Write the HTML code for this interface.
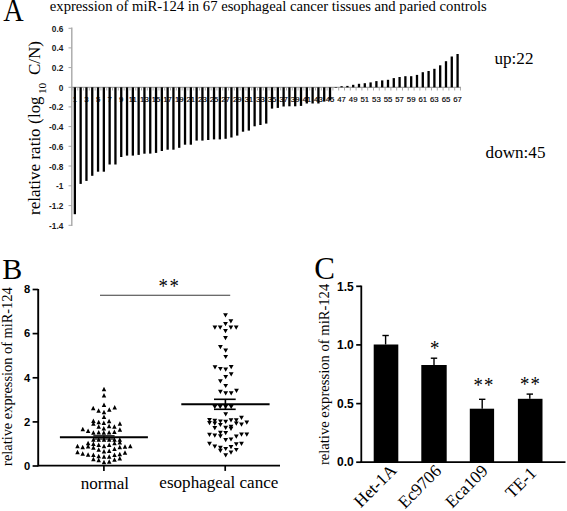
<!DOCTYPE html>
<html><head><meta charset="utf-8"><style>
html,body{margin:0;padding:0;background:#fff;}
svg{display:block;}
text{font-family:"Liberation Serif",serif;fill:#000;}
.tk{font-family:"Liberation Sans",sans-serif;font-weight:bold;font-size:8.3px;fill:#1a1a1a;}
.bl{font-family:"Liberation Sans",sans-serif;font-size:7.8px;fill:#000;stroke:#000;stroke-width:0.15px;}
.tkb{font-family:"Liberation Sans",sans-serif;font-weight:bold;font-size:11.2px;}
.tkc{font-family:"Liberation Sans",sans-serif;font-weight:bold;font-size:12px;}
.big{font-size:30px;}
.ttl{font-size:14.7px;}
.ud{font-size:17.1px;}
.yl{font-size:17px;}
.yls{font-size:11.3px;}
.yl2{font-size:14.8px;}
.xl{font-size:17.1px;}
.xc{font-size:17.3px;}
.ast{font-size:20px;}
</style></head><body>
<svg width="567" height="511" viewBox="0 0 567 511">
<rect width="567" height="511" fill="#fff"/>
<line x1="71.8" y1="27.5" x2="71.8" y2="226" stroke="#a8a8a8" stroke-width="1.4"/>
<line x1="68.5" y1="28.3" x2="71.8" y2="28.3" stroke="#a8a8a8" stroke-width="1"/>
<text x="63.4" y="31.8" text-anchor="end" class="tk">0.6</text>
<line x1="68.5" y1="47.9" x2="71.8" y2="47.9" stroke="#a8a8a8" stroke-width="1"/>
<text x="63.4" y="51.4" text-anchor="end" class="tk">0.4</text>
<line x1="68.5" y1="67.6" x2="71.8" y2="67.6" stroke="#a8a8a8" stroke-width="1"/>
<text x="63.4" y="71.1" text-anchor="end" class="tk">0.2</text>
<line x1="68.5" y1="87.3" x2="71.8" y2="87.3" stroke="#a8a8a8" stroke-width="1"/>
<text x="63.4" y="90.8" text-anchor="end" class="tk">0</text>
<line x1="68.5" y1="106.9" x2="71.8" y2="106.9" stroke="#a8a8a8" stroke-width="1"/>
<text x="63.4" y="110.4" text-anchor="end" class="tk">-0.2</text>
<line x1="68.5" y1="126.6" x2="71.8" y2="126.6" stroke="#a8a8a8" stroke-width="1"/>
<text x="63.4" y="130.1" text-anchor="end" class="tk">-0.4</text>
<line x1="68.5" y1="146.3" x2="71.8" y2="146.3" stroke="#a8a8a8" stroke-width="1"/>
<text x="63.4" y="149.8" text-anchor="end" class="tk">-0.6</text>
<line x1="68.5" y1="166.0" x2="71.8" y2="166.0" stroke="#a8a8a8" stroke-width="1"/>
<text x="63.4" y="169.5" text-anchor="end" class="tk">-0.8</text>
<line x1="68.5" y1="185.8" x2="71.8" y2="185.8" stroke="#a8a8a8" stroke-width="1"/>
<text x="63.4" y="189.3" text-anchor="end" class="tk">-1</text>
<line x1="68.5" y1="205.6" x2="71.8" y2="205.6" stroke="#a8a8a8" stroke-width="1"/>
<text x="63.4" y="209.1" text-anchor="end" class="tk">-1.2</text>
<line x1="68.5" y1="225.3" x2="71.8" y2="225.3" stroke="#a8a8a8" stroke-width="1"/>
<text x="63.4" y="228.8" text-anchor="end" class="tk">-1.4</text>
<line x1="71.8" y1="87.3" x2="461" y2="87.3" stroke="#a0a0a0" stroke-width="1.2"/>
<line x1="71.95" y1="87.3" x2="71.95" y2="90.5" stroke="#a0a0a0" stroke-width="0.9"/>
<line x1="77.75" y1="87.3" x2="77.75" y2="90.5" stroke="#a0a0a0" stroke-width="0.9"/>
<line x1="83.55" y1="87.3" x2="83.55" y2="90.5" stroke="#a0a0a0" stroke-width="0.9"/>
<line x1="89.35" y1="87.3" x2="89.35" y2="90.5" stroke="#a0a0a0" stroke-width="0.9"/>
<line x1="95.15" y1="87.3" x2="95.15" y2="90.5" stroke="#a0a0a0" stroke-width="0.9"/>
<line x1="100.95" y1="87.3" x2="100.95" y2="90.5" stroke="#a0a0a0" stroke-width="0.9"/>
<line x1="106.74" y1="87.3" x2="106.74" y2="90.5" stroke="#a0a0a0" stroke-width="0.9"/>
<line x1="112.54" y1="87.3" x2="112.54" y2="90.5" stroke="#a0a0a0" stroke-width="0.9"/>
<line x1="118.34" y1="87.3" x2="118.34" y2="90.5" stroke="#a0a0a0" stroke-width="0.9"/>
<line x1="124.14" y1="87.3" x2="124.14" y2="90.5" stroke="#a0a0a0" stroke-width="0.9"/>
<line x1="129.94" y1="87.3" x2="129.94" y2="90.5" stroke="#a0a0a0" stroke-width="0.9"/>
<line x1="135.74" y1="87.3" x2="135.74" y2="90.5" stroke="#a0a0a0" stroke-width="0.9"/>
<line x1="141.54" y1="87.3" x2="141.54" y2="90.5" stroke="#a0a0a0" stroke-width="0.9"/>
<line x1="147.34" y1="87.3" x2="147.34" y2="90.5" stroke="#a0a0a0" stroke-width="0.9"/>
<line x1="153.14" y1="87.3" x2="153.14" y2="90.5" stroke="#a0a0a0" stroke-width="0.9"/>
<line x1="158.94" y1="87.3" x2="158.94" y2="90.5" stroke="#a0a0a0" stroke-width="0.9"/>
<line x1="164.73" y1="87.3" x2="164.73" y2="90.5" stroke="#a0a0a0" stroke-width="0.9"/>
<line x1="170.53" y1="87.3" x2="170.53" y2="90.5" stroke="#a0a0a0" stroke-width="0.9"/>
<line x1="176.33" y1="87.3" x2="176.33" y2="90.5" stroke="#a0a0a0" stroke-width="0.9"/>
<line x1="182.13" y1="87.3" x2="182.13" y2="90.5" stroke="#a0a0a0" stroke-width="0.9"/>
<line x1="187.93" y1="87.3" x2="187.93" y2="90.5" stroke="#a0a0a0" stroke-width="0.9"/>
<line x1="193.73" y1="87.3" x2="193.73" y2="90.5" stroke="#a0a0a0" stroke-width="0.9"/>
<line x1="199.53" y1="87.3" x2="199.53" y2="90.5" stroke="#a0a0a0" stroke-width="0.9"/>
<line x1="205.33" y1="87.3" x2="205.33" y2="90.5" stroke="#a0a0a0" stroke-width="0.9"/>
<line x1="211.13" y1="87.3" x2="211.13" y2="90.5" stroke="#a0a0a0" stroke-width="0.9"/>
<line x1="216.93" y1="87.3" x2="216.93" y2="90.5" stroke="#a0a0a0" stroke-width="0.9"/>
<line x1="222.72" y1="87.3" x2="222.72" y2="90.5" stroke="#a0a0a0" stroke-width="0.9"/>
<line x1="228.52" y1="87.3" x2="228.52" y2="90.5" stroke="#a0a0a0" stroke-width="0.9"/>
<line x1="234.32" y1="87.3" x2="234.32" y2="90.5" stroke="#a0a0a0" stroke-width="0.9"/>
<line x1="240.12" y1="87.3" x2="240.12" y2="90.5" stroke="#a0a0a0" stroke-width="0.9"/>
<line x1="245.92" y1="87.3" x2="245.92" y2="90.5" stroke="#a0a0a0" stroke-width="0.9"/>
<line x1="251.72" y1="87.3" x2="251.72" y2="90.5" stroke="#a0a0a0" stroke-width="0.9"/>
<line x1="257.52" y1="87.3" x2="257.52" y2="90.5" stroke="#a0a0a0" stroke-width="0.9"/>
<line x1="263.32" y1="87.3" x2="263.32" y2="90.5" stroke="#a0a0a0" stroke-width="0.9"/>
<line x1="269.12" y1="87.3" x2="269.12" y2="90.5" stroke="#a0a0a0" stroke-width="0.9"/>
<line x1="274.92" y1="87.3" x2="274.92" y2="90.5" stroke="#a0a0a0" stroke-width="0.9"/>
<line x1="280.71" y1="87.3" x2="280.71" y2="90.5" stroke="#a0a0a0" stroke-width="0.9"/>
<line x1="286.51" y1="87.3" x2="286.51" y2="90.5" stroke="#a0a0a0" stroke-width="0.9"/>
<line x1="292.31" y1="87.3" x2="292.31" y2="90.5" stroke="#a0a0a0" stroke-width="0.9"/>
<line x1="298.11" y1="87.3" x2="298.11" y2="90.5" stroke="#a0a0a0" stroke-width="0.9"/>
<line x1="303.91" y1="87.3" x2="303.91" y2="90.5" stroke="#a0a0a0" stroke-width="0.9"/>
<line x1="309.71" y1="87.3" x2="309.71" y2="90.5" stroke="#a0a0a0" stroke-width="0.9"/>
<line x1="315.51" y1="87.3" x2="315.51" y2="90.5" stroke="#a0a0a0" stroke-width="0.9"/>
<line x1="321.31" y1="87.3" x2="321.31" y2="90.5" stroke="#a0a0a0" stroke-width="0.9"/>
<line x1="327.11" y1="87.3" x2="327.11" y2="90.5" stroke="#a0a0a0" stroke-width="0.9"/>
<line x1="332.91" y1="87.3" x2="332.91" y2="90.5" stroke="#a0a0a0" stroke-width="0.9"/>
<line x1="338.70" y1="87.3" x2="338.70" y2="90.5" stroke="#a0a0a0" stroke-width="0.9"/>
<line x1="344.50" y1="87.3" x2="344.50" y2="90.5" stroke="#a0a0a0" stroke-width="0.9"/>
<line x1="350.30" y1="87.3" x2="350.30" y2="90.5" stroke="#a0a0a0" stroke-width="0.9"/>
<line x1="356.10" y1="87.3" x2="356.10" y2="90.5" stroke="#a0a0a0" stroke-width="0.9"/>
<line x1="361.90" y1="87.3" x2="361.90" y2="90.5" stroke="#a0a0a0" stroke-width="0.9"/>
<line x1="367.70" y1="87.3" x2="367.70" y2="90.5" stroke="#a0a0a0" stroke-width="0.9"/>
<line x1="373.50" y1="87.3" x2="373.50" y2="90.5" stroke="#a0a0a0" stroke-width="0.9"/>
<line x1="379.30" y1="87.3" x2="379.30" y2="90.5" stroke="#a0a0a0" stroke-width="0.9"/>
<line x1="385.10" y1="87.3" x2="385.10" y2="90.5" stroke="#a0a0a0" stroke-width="0.9"/>
<line x1="390.90" y1="87.3" x2="390.90" y2="90.5" stroke="#a0a0a0" stroke-width="0.9"/>
<line x1="396.69" y1="87.3" x2="396.69" y2="90.5" stroke="#a0a0a0" stroke-width="0.9"/>
<line x1="402.49" y1="87.3" x2="402.49" y2="90.5" stroke="#a0a0a0" stroke-width="0.9"/>
<line x1="408.29" y1="87.3" x2="408.29" y2="90.5" stroke="#a0a0a0" stroke-width="0.9"/>
<line x1="414.09" y1="87.3" x2="414.09" y2="90.5" stroke="#a0a0a0" stroke-width="0.9"/>
<line x1="419.89" y1="87.3" x2="419.89" y2="90.5" stroke="#a0a0a0" stroke-width="0.9"/>
<line x1="425.69" y1="87.3" x2="425.69" y2="90.5" stroke="#a0a0a0" stroke-width="0.9"/>
<line x1="431.49" y1="87.3" x2="431.49" y2="90.5" stroke="#a0a0a0" stroke-width="0.9"/>
<line x1="437.29" y1="87.3" x2="437.29" y2="90.5" stroke="#a0a0a0" stroke-width="0.9"/>
<line x1="443.09" y1="87.3" x2="443.09" y2="90.5" stroke="#a0a0a0" stroke-width="0.9"/>
<line x1="448.89" y1="87.3" x2="448.89" y2="90.5" stroke="#a0a0a0" stroke-width="0.9"/>
<line x1="454.68" y1="87.3" x2="454.68" y2="90.5" stroke="#a0a0a0" stroke-width="0.9"/>
<line x1="460.48" y1="87.3" x2="460.48" y2="90.5" stroke="#a0a0a0" stroke-width="0.9"/>
<rect x="73.70" y="87.3" width="2.3" height="126.90" fill="#000"/>
<rect x="79.50" y="87.3" width="2.3" height="96.60" fill="#000"/>
<rect x="85.30" y="87.3" width="2.3" height="93.60" fill="#000"/>
<rect x="91.10" y="87.3" width="2.3" height="88.50" fill="#000"/>
<rect x="96.90" y="87.3" width="2.3" height="84.40" fill="#000"/>
<rect x="102.69" y="87.3" width="2.3" height="84.40" fill="#000"/>
<rect x="108.49" y="87.3" width="2.3" height="77.20" fill="#000"/>
<rect x="114.29" y="87.3" width="2.3" height="77.20" fill="#000"/>
<rect x="120.09" y="87.3" width="2.3" height="69.70" fill="#000"/>
<rect x="125.89" y="87.3" width="2.3" height="68.30" fill="#000"/>
<rect x="131.69" y="87.3" width="2.3" height="68.30" fill="#000"/>
<rect x="137.49" y="87.3" width="2.3" height="67.60" fill="#000"/>
<rect x="143.29" y="87.3" width="2.3" height="66.40" fill="#000"/>
<rect x="149.09" y="87.3" width="2.3" height="66.30" fill="#000"/>
<rect x="154.89" y="87.3" width="2.3" height="65.60" fill="#000"/>
<rect x="160.68" y="87.3" width="2.3" height="63.70" fill="#000"/>
<rect x="166.48" y="87.3" width="2.3" height="62.40" fill="#000"/>
<rect x="172.28" y="87.3" width="2.3" height="62.40" fill="#000"/>
<rect x="178.08" y="87.3" width="2.3" height="60.50" fill="#000"/>
<rect x="183.88" y="87.3" width="2.3" height="57.40" fill="#000"/>
<rect x="189.68" y="87.3" width="2.3" height="57.40" fill="#000"/>
<rect x="195.48" y="87.3" width="2.3" height="53.30" fill="#000"/>
<rect x="201.28" y="87.3" width="2.3" height="53.30" fill="#000"/>
<rect x="207.08" y="87.3" width="2.3" height="52.70" fill="#000"/>
<rect x="212.88" y="87.3" width="2.3" height="52.10" fill="#000"/>
<rect x="218.68" y="87.3" width="2.3" height="52.10" fill="#000"/>
<rect x="224.47" y="87.3" width="2.3" height="51.50" fill="#000"/>
<rect x="230.27" y="87.3" width="2.3" height="50.20" fill="#000"/>
<rect x="236.07" y="87.3" width="2.3" height="48.30" fill="#000"/>
<rect x="241.87" y="87.3" width="2.3" height="44.40" fill="#000"/>
<rect x="247.67" y="87.3" width="2.3" height="43.30" fill="#000"/>
<rect x="253.47" y="87.3" width="2.3" height="39.00" fill="#000"/>
<rect x="259.27" y="87.3" width="2.3" height="37.70" fill="#000"/>
<rect x="265.07" y="87.3" width="2.3" height="36.30" fill="#000"/>
<rect x="270.87" y="87.3" width="2.3" height="21.30" fill="#000"/>
<rect x="276.67" y="87.3" width="2.3" height="20.60" fill="#000"/>
<rect x="282.46" y="87.3" width="2.3" height="19.20" fill="#000"/>
<rect x="288.26" y="87.3" width="2.3" height="19.00" fill="#000"/>
<rect x="294.06" y="87.3" width="2.3" height="19.00" fill="#000"/>
<rect x="299.86" y="87.3" width="2.3" height="18.60" fill="#000"/>
<rect x="305.66" y="87.3" width="2.3" height="16.20" fill="#000"/>
<rect x="311.46" y="87.3" width="2.3" height="16.20" fill="#000"/>
<rect x="317.26" y="87.3" width="2.3" height="16.20" fill="#000"/>
<rect x="323.06" y="87.3" width="2.3" height="14.30" fill="#000"/>
<rect x="328.86" y="87.3" width="2.3" height="13.10" fill="#000"/>
<rect x="334.66" y="87.3" width="2.3" height="0.50" fill="#000"/>
<rect x="340.45" y="86.2" width="2.3" height="1.10" fill="#000"/>
<rect x="346.25" y="85.9" width="2.3" height="1.40" fill="#000"/>
<rect x="352.05" y="84.8" width="2.3" height="2.50" fill="#000"/>
<rect x="357.85" y="83.8" width="2.3" height="3.50" fill="#000"/>
<rect x="363.65" y="83.2" width="2.3" height="4.10" fill="#000"/>
<rect x="369.45" y="82.4" width="2.3" height="4.90" fill="#000"/>
<rect x="375.25" y="81.1" width="2.3" height="6.20" fill="#000"/>
<rect x="381.05" y="80.4" width="2.3" height="6.90" fill="#000"/>
<rect x="386.85" y="79.8" width="2.3" height="7.50" fill="#000"/>
<rect x="392.64" y="78.1" width="2.3" height="9.20" fill="#000"/>
<rect x="398.44" y="77.0" width="2.3" height="10.30" fill="#000"/>
<rect x="404.24" y="76.2" width="2.3" height="11.10" fill="#000"/>
<rect x="410.04" y="76.2" width="2.3" height="11.10" fill="#000"/>
<rect x="415.84" y="74.9" width="2.3" height="12.40" fill="#000"/>
<rect x="421.64" y="72.2" width="2.3" height="15.10" fill="#000"/>
<rect x="427.44" y="71.0" width="2.3" height="16.30" fill="#000"/>
<rect x="433.24" y="68.8" width="2.3" height="18.50" fill="#000"/>
<rect x="439.04" y="65.3" width="2.3" height="22.00" fill="#000"/>
<rect x="444.84" y="61.2" width="2.3" height="26.10" fill="#000"/>
<rect x="450.63" y="56.5" width="2.3" height="30.80" fill="#000"/>
<rect x="456.43" y="54.0" width="2.3" height="33.30" fill="#000"/>
<text x="74.85" y="102.1" text-anchor="middle" class="bl">1</text>
<text x="86.45" y="102.1" text-anchor="middle" class="bl">3</text>
<text x="98.05" y="102.1" text-anchor="middle" class="bl">5</text>
<text x="109.64" y="102.1" text-anchor="middle" class="bl">7</text>
<text x="121.24" y="102.1" text-anchor="middle" class="bl">9</text>
<text x="132.84" y="102.1" text-anchor="middle" class="bl">11</text>
<text x="144.44" y="102.1" text-anchor="middle" class="bl">13</text>
<text x="156.04" y="102.1" text-anchor="middle" class="bl">15</text>
<text x="167.63" y="102.1" text-anchor="middle" class="bl">17</text>
<text x="179.23" y="102.1" text-anchor="middle" class="bl">19</text>
<text x="190.83" y="102.1" text-anchor="middle" class="bl">21</text>
<text x="202.43" y="102.1" text-anchor="middle" class="bl">23</text>
<text x="214.03" y="102.1" text-anchor="middle" class="bl">25</text>
<text x="225.62" y="102.1" text-anchor="middle" class="bl">27</text>
<text x="237.22" y="102.1" text-anchor="middle" class="bl">29</text>
<text x="248.82" y="102.1" text-anchor="middle" class="bl">31</text>
<text x="260.42" y="102.1" text-anchor="middle" class="bl">33</text>
<text x="272.02" y="102.1" text-anchor="middle" class="bl">35</text>
<text x="283.61" y="102.1" text-anchor="middle" class="bl">37</text>
<text x="295.21" y="102.1" text-anchor="middle" class="bl">39</text>
<text x="306.81" y="102.1" text-anchor="middle" class="bl">41</text>
<text x="318.41" y="102.1" text-anchor="middle" class="bl">43</text>
<text x="330.01" y="102.1" text-anchor="middle" class="bl">45</text>
<text x="341.60" y="102.1" text-anchor="middle" class="bl">47</text>
<text x="353.20" y="102.1" text-anchor="middle" class="bl">49</text>
<text x="364.80" y="102.1" text-anchor="middle" class="bl">51</text>
<text x="376.40" y="102.1" text-anchor="middle" class="bl">53</text>
<text x="388.00" y="102.1" text-anchor="middle" class="bl">55</text>
<text x="399.59" y="102.1" text-anchor="middle" class="bl">57</text>
<text x="411.19" y="102.1" text-anchor="middle" class="bl">59</text>
<text x="422.79" y="102.1" text-anchor="middle" class="bl">61</text>
<text x="434.39" y="102.1" text-anchor="middle" class="bl">63</text>
<text x="445.99" y="102.1" text-anchor="middle" class="bl">65</text>
<text x="457.58" y="102.1" text-anchor="middle" class="bl">67</text>

<text transform="translate(3.2,21.2) scale(0.945,1.04)" class="big">A</text>
<text transform="translate(49.8,11.2) scale(1,1.06)" x="0" y="0" class="ttl" textLength="437" lengthAdjust="spacingAndGlyphs">expression of miR-124 in 67 esophageal cancer tissues and paried controls</text>
<text x="494.5" y="64.2" class="ud">up:22</text>
<text x="485.6" y="157.8" class="ud">down:45</text>
<g transform="translate(40,214.6) rotate(-90)">
 <text x="-0.34" y="0" class="yl" textLength="96.5" lengthAdjust="spacingAndGlyphs">relative ratio (</text>
 <text x="96.7" y="0" class="yl" textLength="21.4" lengthAdjust="spacingAndGlyphs">log</text>
 <text x="120.5" y="5.6" class="yls" textLength="11.3" lengthAdjust="spacingAndGlyphs">10</text>
 <text x="139.5" y="0" class="yl" textLength="34" lengthAdjust="spacingAndGlyphs">C/N)</text>
</g>

<text x="2.3" y="279.2" class="big">B</text>
<line x1="38.2" y1="289" x2="38.2" y2="466.4" stroke="#000" stroke-width="1.9"/>
<line x1="38.2" y1="465.6" x2="280" y2="465.6" stroke="#000" stroke-width="1.9"/>
<line x1="32.6" y1="466.0" x2="38.2" y2="466.0" stroke="#000" stroke-width="1.7"/>
<text x="30.3" y="469.8" text-anchor="end" class="tkb">0</text>
<line x1="32.6" y1="421.9" x2="38.2" y2="421.9" stroke="#000" stroke-width="1.7"/>
<text x="30.3" y="425.7" text-anchor="end" class="tkb">2</text>
<line x1="32.6" y1="377.8" x2="38.2" y2="377.8" stroke="#000" stroke-width="1.7"/>
<text x="30.3" y="381.6" text-anchor="end" class="tkb">4</text>
<line x1="32.6" y1="333.6" x2="38.2" y2="333.6" stroke="#000" stroke-width="1.7"/>
<text x="30.3" y="337.4" text-anchor="end" class="tkb">6</text>
<line x1="32.6" y1="289.5" x2="38.2" y2="289.5" stroke="#000" stroke-width="1.7"/>
<text x="30.3" y="293.3" text-anchor="end" class="tkb">8</text>
<line x1="103.9" y1="465.6" x2="103.9" y2="470.9" stroke="#000" stroke-width="1.7"/>
<line x1="225.2" y1="465.6" x2="225.2" y2="470.9" stroke="#000" stroke-width="1.7"/>
<text x="80.7" y="489.2" class="xl">normal</text>
<text x="159.3" y="488.2" class="xl">esophageal cance</text>
<line x1="100" y1="295.2" x2="230.2" y2="295.2" stroke="#3a3a3a" stroke-width="1.15"/>
<text transform="translate(163.2,283.1) scale(0.94,1.1)" x="-5.00" y="9.30" class="ast">*</text>
<text transform="translate(174.3,283.1) scale(0.94,1.1)" x="-5.00" y="9.30" class="ast">*</text>
<g transform="translate(12.4,465.9) rotate(-90)"><text x="0" y="0" class="yl2" textLength="178.6" lengthAdjust="spacingAndGlyphs">relative expression of miR-124</text></g>
<path d="M101.75 391.15L104.00 386.65L106.25 391.15ZM101.75 397.45L104.00 392.95L106.25 397.45ZM101.75 406.95L104.00 402.45L106.25 406.95ZM90.95 410.35L93.20 405.85L95.45 410.35ZM96.35 412.85L98.60 408.35L100.85 412.85ZM101.75 414.15L104.00 409.65L106.25 414.15ZM107.05 411.85L109.30 407.35L111.55 411.85ZM112.45 409.45L114.70 404.95L116.95 409.45ZM101.75 419.05L104.00 414.55L106.25 419.05ZM91.15 422.95L93.40 418.45L95.65 422.95ZM91.15 425.65L93.40 421.15L95.65 425.65ZM96.45 424.15L98.70 419.65L100.95 424.15ZM101.55 425.05L103.80 420.55L106.05 425.05ZM106.85 423.25L109.10 418.75L111.35 423.25ZM117.65 425.85L119.90 421.35L122.15 425.85ZM96.45 428.75L98.70 424.25L100.95 428.75ZM101.55 430.45L103.80 425.95L106.05 430.45ZM106.85 428.25L109.10 423.75L111.35 428.25ZM112.15 428.75L114.40 424.25L116.65 428.75ZM80.55 431.15L82.80 426.65L85.05 431.15ZM85.85 432.95L88.10 428.45L90.35 432.95ZM117.65 431.85L119.90 427.35L122.15 431.85ZM91.15 434.75L93.40 430.25L95.65 434.75ZM96.45 434.45L98.70 429.95L100.95 434.45ZM101.55 434.85L103.80 430.35L106.05 434.85ZM106.85 434.45L109.10 429.95L111.35 434.45ZM112.15 434.05L114.40 429.55L116.65 434.05ZM91.15 441.75L93.40 437.25L95.65 441.75ZM96.45 441.75L98.70 437.25L100.95 441.75ZM101.75 441.75L104.00 437.25L106.25 441.75ZM106.95 441.75L109.20 437.25L111.45 441.75ZM112.25 441.75L114.50 437.25L116.75 441.75ZM117.55 441.75L119.80 437.25L122.05 441.75ZM75.25 448.15L77.50 443.65L79.75 448.15ZM75.25 454.15L77.50 449.65L79.75 454.15ZM80.45 449.15L82.70 444.65L84.95 449.15ZM80.45 455.85L82.70 451.35L84.95 455.85ZM85.85 445.35L88.10 440.85L90.35 445.35ZM85.85 448.45L88.10 443.95L90.35 448.45ZM85.85 456.75L88.10 452.25L90.35 456.75ZM91.15 446.05L93.40 441.55L95.65 446.05ZM91.15 449.85L93.40 445.35L95.65 449.85ZM91.15 456.95L93.40 452.45L95.65 456.95ZM91.15 461.15L93.40 456.65L95.65 461.15ZM96.45 447.05L98.70 442.55L100.95 447.05ZM96.45 451.65L98.70 447.15L100.95 451.65ZM96.45 458.35L98.70 453.85L100.95 458.35ZM96.45 462.25L98.70 457.75L100.95 462.25ZM101.75 448.15L104.00 443.65L106.25 448.15ZM101.75 453.45L104.00 448.95L106.25 453.45ZM101.75 458.75L104.00 454.25L106.25 458.75ZM101.75 464.35L104.00 459.85L106.25 464.35ZM106.95 447.05L109.20 442.55L111.45 447.05ZM106.95 453.05L109.20 448.55L111.45 453.05ZM106.95 458.75L109.20 454.25L111.45 458.75ZM106.95 463.75L109.20 459.25L111.45 463.75ZM112.25 445.25L114.50 440.75L116.75 445.25ZM112.25 450.95L114.50 446.45L116.75 450.95ZM112.25 456.95L114.50 452.45L116.75 456.95ZM112.25 461.85L114.50 457.35L116.75 461.85ZM117.55 444.55L119.80 440.05L122.05 444.55ZM117.55 449.15L119.80 444.65L122.05 449.15ZM117.55 456.25L119.80 451.75L122.05 456.25ZM117.55 460.45L119.80 455.95L122.05 460.45ZM122.75 448.85L125.00 444.35L127.25 448.85ZM122.75 454.85L125.00 450.35L127.25 454.85ZM128.05 448.15L130.30 443.65L132.55 448.15Z" fill="#000"/>
<path d="M223.10 313.30L227.90 313.30L225.50 317.50ZM228.50 319.30L233.30 319.30L230.90 323.50ZM223.10 322.10L227.90 322.10L225.50 326.30ZM212.50 325.60L217.30 325.60L214.90 329.80ZM217.80 325.60L222.60 325.60L220.20 329.80ZM228.50 325.60L233.30 325.60L230.90 329.80ZM233.80 325.60L238.60 325.60L236.20 329.80ZM223.10 329.10L227.90 329.10L225.50 333.30ZM223.10 336.00L227.90 336.00L225.50 340.20ZM218.00 345.10L222.80 345.10L220.40 349.30ZM223.30 348.60L228.10 348.60L225.70 352.80ZM223.30 354.90L228.10 354.90L225.70 359.10ZM212.60 365.30L217.40 365.30L215.00 369.50ZM218.00 366.90L222.80 366.90L220.40 371.10ZM223.30 367.60L228.10 367.60L225.70 371.80ZM228.80 365.10L233.60 365.10L231.20 369.30ZM228.80 372.30L233.60 372.30L231.20 376.50ZM223.30 375.00L228.10 375.00L225.70 379.20ZM218.00 379.30L222.80 379.30L220.40 383.50ZM223.30 383.90L228.10 383.90L225.70 388.10ZM218.00 389.80L222.80 389.80L220.40 394.00ZM223.30 391.30L228.10 391.30L225.70 395.50ZM228.80 391.30L233.60 391.30L231.20 395.50ZM234.10 388.70L238.90 388.70L236.50 392.90ZM212.40 404.90L217.20 404.90L214.80 409.10ZM217.80 404.90L222.60 404.90L220.20 409.10ZM223.30 404.90L228.10 404.90L225.70 409.10ZM228.80 404.90L233.60 404.90L231.20 409.10ZM223.30 412.30L228.10 412.30L225.70 416.50ZM207.10 418.00L211.90 418.00L209.50 422.20ZM207.10 421.00L211.90 421.00L209.50 425.20ZM212.40 418.70L217.20 418.70L214.80 422.90ZM212.40 421.50L217.20 421.50L214.80 425.70ZM212.40 426.10L217.20 426.10L214.80 430.30ZM218.00 419.40L222.80 419.40L220.40 423.60ZM218.00 422.90L222.80 422.90L220.40 427.10ZM223.30 419.70L228.10 419.70L225.70 423.90ZM223.30 425.70L228.10 425.70L225.70 429.90ZM228.60 418.30L233.40 418.30L231.00 422.50ZM228.60 424.70L233.40 424.70L231.00 428.90ZM228.60 426.80L233.40 426.80L231.00 431.00ZM233.90 418.30L238.70 418.30L236.30 422.50ZM233.90 421.50L238.70 421.50L236.30 425.70ZM239.10 415.70L243.90 415.70L241.50 419.90ZM239.10 422.60L243.90 422.60L241.50 426.80ZM244.40 420.50L249.20 420.50L246.80 424.70ZM207.10 432.80L211.90 432.80L209.50 437.00ZM212.40 433.50L217.20 433.50L214.80 437.70ZM218.00 430.70L222.80 430.70L220.40 434.90ZM218.00 434.20L222.80 434.20L220.40 438.40ZM223.30 431.00L228.10 431.00L225.70 435.20ZM223.30 438.10L228.10 438.10L225.70 442.30ZM228.60 437.40L233.40 437.40L231.00 441.60ZM233.90 434.50L238.70 434.50L236.30 438.70ZM239.10 432.60L243.90 432.60L241.50 436.80ZM244.40 432.60L249.20 432.60L246.80 436.80ZM207.10 441.80L211.90 441.80L209.50 446.00ZM212.40 444.50L217.20 444.50L214.80 448.70ZM218.00 445.80L222.80 445.80L220.40 450.00ZM218.00 448.70L222.80 448.70L220.40 452.90ZM223.30 446.90L228.10 446.90L225.70 451.10ZM223.30 453.20L228.10 453.20L225.70 457.40ZM228.60 445.00L233.40 445.00L231.00 449.20ZM228.60 450.50L233.40 450.50L231.00 454.70ZM233.90 442.30L238.70 442.30L236.30 446.50ZM233.90 447.90L238.70 447.90L236.30 452.10ZM239.10 441.80L243.90 441.80L241.50 446.00Z" fill="#000"/>
<line x1="59.9" y1="437.3" x2="147.9" y2="437.3" stroke="#000" stroke-width="2"/>
<line x1="93.3" y1="435.8" x2="114.6" y2="435.8" stroke="#000" stroke-width="1.2"/>
<line x1="93.3" y1="439" x2="114.6" y2="439" stroke="#000" stroke-width="1.2"/>
<line x1="103.9" y1="435.8" x2="103.9" y2="439" stroke="#000" stroke-width="1.2"/>
<line x1="181.3" y1="404.2" x2="269.6" y2="404.2" stroke="#000" stroke-width="2"/>
<line x1="214" y1="399.3" x2="235.7" y2="399.3" stroke="#000" stroke-width="1.6"/>
<line x1="214" y1="409.3" x2="235.7" y2="409.3" stroke="#000" stroke-width="1.6"/>
<line x1="225.4" y1="399.3" x2="225.4" y2="409.3" stroke="#000" stroke-width="1.6"/>
<text x="314.3" y="279" class="big" style="font-size:31px">C</text>
<line x1="361.3" y1="285.6" x2="361.3" y2="463" stroke="#000" stroke-width="1.8"/>
<line x1="360.4" y1="462.2" x2="565.5" y2="462.2" stroke="#000" stroke-width="1.8"/>
<line x1="356.2" y1="462.2" x2="361.3" y2="462.2" stroke="#000" stroke-width="1.7"/>
<text x="353.8" y="466.4" text-anchor="end" class="tkc">0.0</text>
<line x1="356.2" y1="403.6" x2="361.3" y2="403.6" stroke="#000" stroke-width="1.7"/>
<text x="353.8" y="407.8" text-anchor="end" class="tkc">0.5</text>
<line x1="356.2" y1="344.9" x2="361.3" y2="344.9" stroke="#000" stroke-width="1.7"/>
<text x="353.8" y="349.1" text-anchor="end" class="tkc">1.0</text>
<line x1="356.2" y1="286.3" x2="361.3" y2="286.3" stroke="#000" stroke-width="1.7"/>
<text x="353.8" y="290.5" text-anchor="end" class="tkc">1.5</text>
<rect x="373.7" y="344.5" width="24.6" height="117.7" fill="#000"/>
<line x1="385.6" y1="344.5" x2="385.6" y2="335.3" stroke="#000" stroke-width="1.4"/>
<line x1="382.40000000000003" y1="335.5" x2="388.8" y2="335.5" stroke="#000" stroke-width="1.4"/>
<rect x="421.3" y="365" width="25.4" height="97.2" fill="#000"/>
<line x1="434" y1="365" x2="434" y2="358" stroke="#000" stroke-width="1.4"/>
<line x1="430.8" y1="358.2" x2="437.2" y2="358.2" stroke="#000" stroke-width="1.4"/>
<rect x="469.8" y="408.7" width="24.3" height="53.5" fill="#000"/>
<line x1="482.2" y1="408.7" x2="482.2" y2="399.1" stroke="#000" stroke-width="1.4"/>
<line x1="479.0" y1="399.3" x2="485.4" y2="399.3" stroke="#000" stroke-width="1.4"/>
<rect x="517.9" y="398.8" width="24.6" height="63.4" fill="#000"/>
<line x1="529.8" y1="398.8" x2="529.8" y2="393.9" stroke="#000" stroke-width="1.4"/>
<line x1="526.5999999999999" y1="394.09999999999997" x2="533.0" y2="394.09999999999997" stroke="#000" stroke-width="1.4"/>
<text transform="translate(434.6,344.9) scale(0.94,1.1)" x="-5.00" y="9.30" class="ast">*</text>
<text transform="translate(478.1,381.8) scale(0.94,1.1)" x="-5.00" y="9.30" class="ast">*</text>
<text transform="translate(488.6,381.8) scale(0.94,1.1)" x="-5.00" y="9.30" class="ast">*</text>
<text transform="translate(524.8,380.9) scale(0.94,1.1)" x="-5.00" y="9.30" class="ast">*</text>
<text transform="translate(535.2,380.9) scale(0.94,1.1)" x="-5.00" y="9.30" class="ast">*</text>
<g transform="translate(329,465.1) rotate(-90)"><text x="0" y="0" class="yl2" textLength="181.3" lengthAdjust="spacingAndGlyphs">relative expression of miR-124</text></g>
<g transform="translate(397.5,471.5) rotate(-45)"><text x="0" y="0" text-anchor="end" class="xc">Het-1A</text></g>
<g transform="translate(442.3,472) rotate(-45)"><text x="0" y="0" text-anchor="end" class="xc">Ec9706</text></g>
<g transform="translate(488.8,472) rotate(-45)"><text x="0" y="0" text-anchor="end" class="xc">Eca109</text></g>
<g transform="translate(537.3,474.2) rotate(-45)"><text x="0" y="0" text-anchor="end" class="xc">TE-1</text></g>
</svg>
</body></html>
